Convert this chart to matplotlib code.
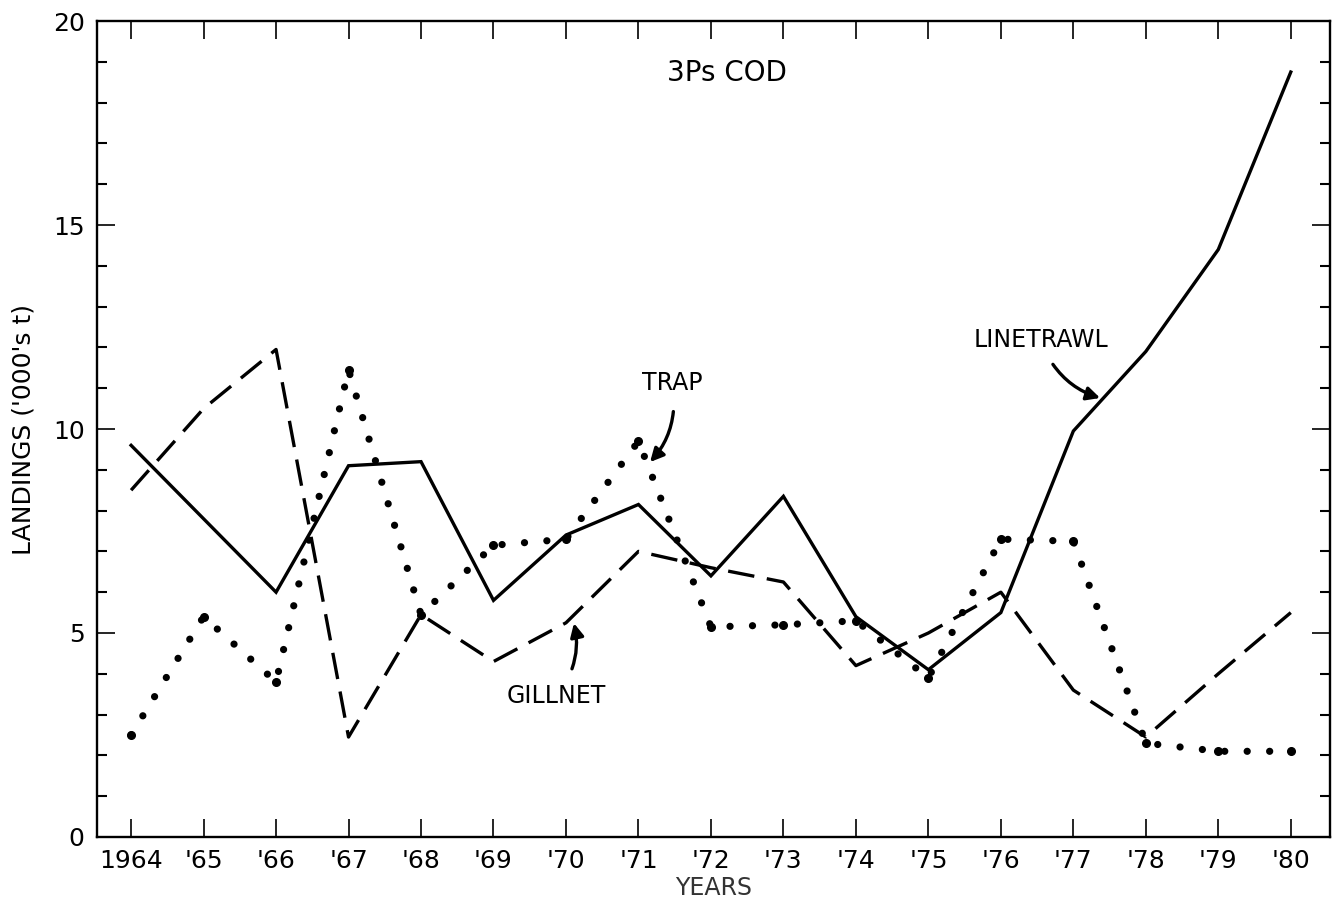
import matplotlib
matplotlib.use("Agg")
import matplotlib.pyplot as plt
from matplotlib.ticker import MultipleLocator

plt.rcParams['font.family'] = ['DejaVu Sans']

years = list(range(1964, 1981))
year_labels = ["1964"] + ["'%02d" % (y % 100) for y in years[1:]]

linetrawl = [9.6, 7.8, 6.0, 9.1, 9.2, 5.8, 7.4, 8.15, 6.4, 8.35, 5.4, 4.1, 5.5, 9.95, 11.9, 14.4, 18.75]
gillnet = [8.5, 10.5, 11.95, 2.45, 5.45, 4.3, 5.25, 7.0, 6.6, 6.25, 4.2, 5.0, 6.0, 3.6, 2.45, 4.0, 5.5]
trap = [2.5, 5.4, 3.8, 11.45, 5.45, 7.15, 7.3, 9.7, 5.15, 5.2, 5.3, 3.9, 7.3, 7.25, 2.3, 2.1, 2.1]

fig = plt.figure(figsize=(13.42, 9.07), dpi=100)
ax = fig.add_axes([0.0723, 0.0772, 0.9187, 0.8996])

ax.plot(years, linetrawl, color="black", lw=2.4, solid_joinstyle="miter")
ax.plot(years, gillnet, color="black", lw=2.4, linestyle=(0, (8.0, 3.8)))
# trap: round dots, plus a dot on every year
ax.plot(years, trap, color="black", lw=5.2, linestyle=(0, (0.01, 3.1)),
        dash_capstyle="round")
ax.plot(years, trap, color="black", lw=0, marker="o", markersize=5.5)

ax.set_xlim(1963.53, 1980.54)
ax.set_ylim(0, 20)
ax.set_xticks(years)
ax.set_xticklabels(year_labels)
ax.yaxis.set_major_locator(MultipleLocator(5))
ax.yaxis.set_minor_locator(MultipleLocator(1))

ax.tick_params(axis="both", which="both", direction="in", top=True, right=True,
               color="black", labelsize=18)
ax.tick_params(axis="both", which="major", length=13, width=1.2, pad=9)
ax.tick_params(axis="y", which="minor", length=7, width=1.5)
for s in ax.spines.values():
    s.set_linewidth(1.7)

ax.set_ylabel("LANDINGS ('000's t)", fontsize=18, labelpad=12)
ax.set_xlabel("YEARS", fontsize=17, labelpad=2, color="#333333")

ax.text(1972.22, 18.73, "3Ps COD", fontsize=20, ha="center", va="center")

arrow = dict(arrowstyle="-|>", color="black", lw=2.4, mutation_scale=20)
ax.annotate("LINETRAWL", xy=(1977.37, 10.76), xytext=(1976.55, 12.18),
            fontsize=17, ha="center", va="center",
            arrowprops=dict(arrow, connectionstyle="arc3,rad=0.25",
                            shrinkA=8, shrinkB=0))
ax.annotate("TRAP", xy=(1971.16, 9.19), xytext=(1971.46, 11.13),
            fontsize=17, ha="center", va="center",
            arrowprops=dict(arrow, connectionstyle="arc3,rad=-0.25",
                            shrinkA=10, shrinkB=0))
ax.annotate("GILLNET", xy=(1970.11, 5.24), xytext=(1969.86, 3.45),
            fontsize=17, ha="center", va="center",
            arrowprops=dict(arrow, connectionstyle="arc3,rad=0.25",
                            shrinkA=10, shrinkB=0))

fig.savefig("out.png", dpi=100)
